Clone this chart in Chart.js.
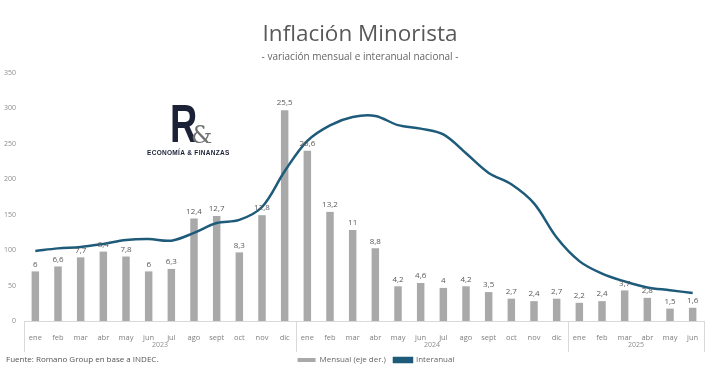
<!DOCTYPE html>
<html>
<head>
<meta charset="utf-8">
<script src="https://cdn.jsdelivr.net/npm/chart.js@4"></script>
<style>
  html, body { margin: 0; padding: 0; background: #fff; }
  #wrap { width: 715px; height: 373px; }
</style>
</head>
<body>
<div id="wrap"><canvas id="chart"></canvas></div>
<script>
// months shown on the axis, grouped by year
const months = ["ene","feb","mar","abr","may","jun","jul","ago","sept","oct","nov","dic",
                "ene","feb","mar","abr","may","jun","jul","ago","sept","oct","nov","dic",
                "ene","feb","mar","abr","may","jun"];
const years = ["2023", "2024", "2025"];
const yearSizes = [12, 12, 6];

// monthly % (right axis, hidden)
const mensual = [6, 6.6, 7.7, 8.4, 7.8, 6, 6.3, 12.4, 12.7, 8.3, 12.8, 25.5,
                 20.6, 13.2, 11, 8.8, 4.2, 4.6, 4, 4.2, 3.5, 2.7, 2.4, 2.7,
                 2.2, 2.4, 3.7, 2.8, 1.5, 1.6];

// year on year % (left axis)
const interanual = [98.8, 102.5, 104.3, 108.8, 114.2, 115.6, 113.4, 124.4, 138.3, 142.7, 160.9, 211.4,
                    254.2, 276.2, 287.9, 289.4, 276.4, 271.5, 263.4, 236.7, 209, 193, 166, 117.8,
                    84.5, 66.9, 55.9, 47.3, 43.5, 39.4];

const leftTicks = [0, 50, 100, 150, 200, 250, 300, 350];

const barColor = '#a9a9a9';
const lineColor = '#1e5b7a';
const fontFam = '"Open Sans", "Noto Sans", sans-serif';

const fmt = (v) => String(v).replace('.', ',');

// value labels over the bars, year row, separators, logo and source note
const extras = {
    id: 'extras',
    afterLayout(chart) {
        // title block and legend sit a bit right of centre in the original
        chart.boxes.forEach((b) => {
            if (b.position === 'top') {
                b.left += 8;
                b.right += 8;
            }
        });
        chart.legend.left += 24;
        chart.legend.right += 24;
        chart.legend.top -= 5;
        chart.legend.bottom -= 5;
    },
    beforeDatasetsDraw(chart) {
        const ctx = chart.ctx;
        ctx.save();
        // logo
        ctx.fillStyle = '#1b2136';
        ctx.textBaseline = 'alphabetic';
        ctx.textAlign = 'left';
        ctx.save();
        ctx.translate(170, 142);
        ctx.scale(0.7, 1);
        ctx.font = 'bold 54px "Liberation Sans", sans-serif';
        ctx.fillText('R', 0, 0);
        ctx.restore();
        ctx.fillStyle = '#707070';
        ctx.font = '24px "DejaVu Serif", serif';
        ctx.fillText('&', 191, 143);
        ctx.fillStyle = '#1b2136';
        ctx.font = 'bold 6.5px "Liberation Sans", sans-serif';
        ctx.letterSpacing = '0.3px';
        ctx.fillText('ECONOMÍA & FINANZAS', 147, 155);
        ctx.restore();
    },
    afterDraw(chart) {
        const ctx = chart.ctx;
        const x = chart.scales.x;
        const area = chart.chartArea;
        ctx.save();

        // bar values
        const meta = chart.getDatasetMeta(0);
        ctx.fillStyle = '#595959';
        ctx.font = '8px ' + fontFam;
        ctx.textAlign = 'center';
        ctx.textBaseline = 'bottom';
        meta.data.forEach((bar, i) => {
            ctx.fillText(fmt(mensual[i]), bar.x, bar.y - 3);
        });

        // year groups
        ctx.strokeStyle = '#d9d9d9';
        ctx.lineWidth = 1;
        const step = x.getPixelForValue(1) - x.getPixelForValue(0);
        let start = 0;
        const edges = [area.left];
        years.forEach((yr, k) => {
            const end = start + yearSizes[k] - 1;
            const left = x.getPixelForValue(start) - step / 2;
            const right = x.getPixelForValue(end) + step / 2;
            edges.push(right);
            ctx.fillStyle = '#8c8c8c';
            ctx.font = '7px ' + fontFam;
            ctx.textBaseline = 'middle';
            ctx.fillText(yr, (left + right) / 2, area.bottom + 24);
            start = end + 1;
        });
        edges.forEach((px) => {
            const p = Math.round(px) + 0.5;
            ctx.beginPath();
            ctx.moveTo(p, area.bottom);
            ctx.lineTo(p, area.bottom + 31);
            ctx.stroke();
        });

        // source
        ctx.fillStyle = '#555';
        ctx.font = '8px ' + fontFam;
        ctx.textAlign = 'left';
        ctx.textBaseline = 'middle';
        ctx.fillText('Fuente: Romano Group en base a INDEC.', 6, 360);
        ctx.restore();
    }
};

const ctx = document.getElementById('chart').getContext('2d');
const myChart = new Chart(ctx, {
    type: 'bar',
    data: {
        labels: months,
        datasets: [{
            type: 'bar',
            label: 'Mensual (eje der.)',
            data: mensual,
            yAxisID: 'y1',
            backgroundColor: barColor,
            barPercentage: 0.33,
            categoryPercentage: 1,
            order: 1
        }, {
            type: 'line',
            label: 'Interanual',
            data: interanual,
            yAxisID: 'y',
            borderColor: lineColor,
            backgroundColor: lineColor,
            borderWidth: 2.5,
            pointRadius: 0,
            tension: 0.35,
            order: 0
        }]
    },
    options: {
        responsive: true,
        maintainAspectRatio: false,
        animation: false,
        layout: { padding: { left: 0, right: 11, top: 0, bottom: -6 } },
        plugins: {
            title: {
                display: true,
                text: 'Inflación Minorista',
                color: '#595959',
                font: { family: fontFam, size: 22.5, weight: '400' },
                padding: { top: 21, bottom: 0 }
            },
            subtitle: {
                display: true,
                text: '- variación mensual e interanual nacional -',
                color: '#666',
                font: { family: fontFam, size: 10 },
                padding: { top: 3, bottom: 10 }
            },
            legend: {
                position: 'bottom',
                labels: {
                    boxWidth: 18,
                    boxHeight: 4,
                    color: '#666',
                    font: { family: fontFam, size: 8 },
                    padding: 8,
                    sort: (a, b) => a.datasetIndex - b.datasetIndex
                }
            },
            tooltip: { enabled: false }
        },
        scales: {
            x: {
                grid: { display: false },
                border: { display: true, color: '#d9d9d9' },
                ticks: {
                    color: '#7f7f7f',
                    font: { family: fontFam, size: 7.5 },
                    maxRotation: 0,
                    autoSkip: false,
                    padding: 4
                },
                afterFit: (scale) => { scale.height = 32; }
            },
            y: {
                position: 'left',
                min: 0,
                max: 350,
                grid: { display: false },
                border: { display: false },
                afterBuildTicks: (scale) => {
                    scale.ticks = leftTicks.map((v) => ({ value: v }));
                },
                ticks: {
                    color: '#8c8c8c',
                    font: { family: fontFam, size: 7 },
                    padding: 0
                },
                afterFit: (scale) => { scale.width = 24; }
            },
            y1: {
                position: 'right',
                display: false,
                min: 0,
                max: 30
            }
        }
    },
    plugins: [extras]
});
</script>
</body>
</html>
